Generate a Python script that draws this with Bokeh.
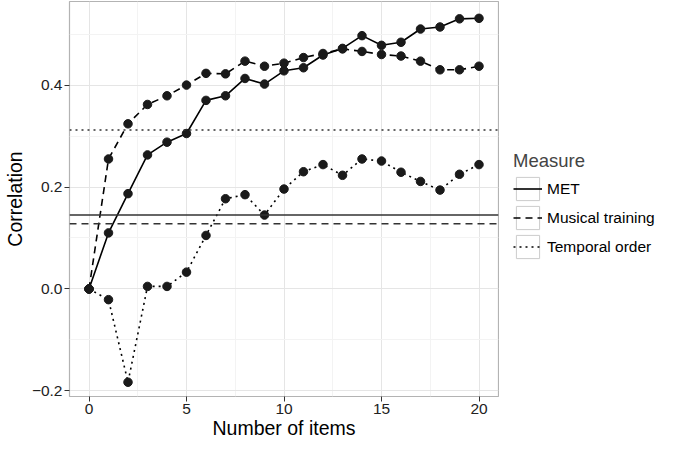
from bokeh.plotting import figure
from bokeh.layouts import row
from bokeh.models import Legend, LegendItem, FixedTicker, Span, Range1d
from bokeh.embed import file_html
from bokeh.resources import INLINE

items = list(range(21))
met = [0.0, 0.110, 0.187, 0.263, 0.288, 0.305, 0.370, 0.379, 0.413, 0.402, 0.428,
       0.434, 0.459, 0.472, 0.497, 0.478, 0.484, 0.510, 0.514, 0.530, 0.531]
musical = [0.0, 0.255, 0.324, 0.362, 0.379, 0.400, 0.423, 0.422, 0.447, 0.437, 0.443,
           0.454, 0.462, 0.471, 0.466, 0.460, 0.457, 0.447, 0.430, 0.430, 0.437]
temporal = [0.0, -0.021, -0.183, 0.005, 0.005, 0.033, 0.105, 0.177, 0.185, 0.145, 0.196,
            0.230, 0.244, 0.223, 0.255, 0.251, 0.229, 0.211, 0.194, 0.225, 0.244]
overall = {"MET": 0.145, "Musical training": 0.128, "Temporal order": 0.312}
measures = ["MET", "Musical training", "Temporal order"]
x_ticks = [0, 5, 10, 15, 20]
x_minor = [2.5, 7.5, 12.5, 17.5]
y_ticks = [-0.2, 0.0, 0.2, 0.4]
y_minor = [-0.1, 0.1, 0.3, 0.5]
y_tick_labels = ["\u22120.2", "0.0", "0.2", "0.4"]

FONT = "Liberation Sans"
dashes = {"MET": "solid", "Musical training": "7 5", "Temporal order": "2 4"}
series = {"MET": met, "Musical training": musical, "Temporal order": temporal}

p = figure(width=499, height=441, output_backend="svg", toolbar_location=None,
           x_range=Range1d(-1, 21), y_range=Range1d(-0.211, 0.564),
           min_border_left=0, min_border_top=1, min_border_bottom=0, min_border_right=1)

p.background_fill_color = "white"
p.outline_line_color = "#b3b3b3"
p.outline_line_width = 1.2

p.xaxis.ticker = FixedTicker(ticks=x_ticks, minor_ticks=x_minor)
p.yaxis.ticker = FixedTicker(ticks=y_ticks, minor_ticks=y_minor)
p.yaxis.major_label_overrides = {t: l for t, l in zip(y_ticks, y_tick_labels)}

for ax in (p.xaxis, p.yaxis):
    ax.axis_line_color = None
    ax.major_tick_in = 0
    ax.major_tick_out = 5
    ax.major_tick_line_color = "#333333"
    ax.major_tick_line_width = 1
    ax.minor_tick_line_color = None
    ax.major_label_text_font = FONT
    ax.major_label_text_font_size = "15.5px"
    ax.major_label_text_color = "#222222"
    ax.axis_label_text_font = FONT
    ax.axis_label_text_font_size = "19.5px"
    ax.axis_label_text_font_style = "normal"
    ax.axis_label_text_color = "black"
    ax.major_label_standoff = 2

p.xaxis.axis_label = "Number of items"
p.yaxis.axis_label = "Correlation"
p.xaxis.axis_label_standoff = 0
p.yaxis.axis_label_standoff = 3

for g in (p.xgrid, p.ygrid):
    g.grid_line_color = "#e5e5e5"
    g.grid_line_width = 1
    g.minor_grid_line_color = "#f3f3f3"
    g.minor_grid_line_width = 1

for m in measures:
    span = Span(location=overall[m], dimension="width", line_color="#333333",
                line_width=1.6, line_dash=dashes[m])
    p.add_layout(span)
    p.line(items, series[m], line_color="black", line_width=1.6, line_dash=dashes[m])
    p.scatter(items, series[m], size=8.5, fill_color="#1a1a1a", line_color="#1a1a1a")

# legend panel: a second figure holding only the legend
lg = figure(width=160, height=441, output_backend="svg", toolbar_location=None,
            x_range=Range1d(0, 1), y_range=Range1d(0, 1),
            x_axis_type=None, y_axis_type=None,
            min_border_left=0, min_border_top=0, min_border_bottom=0, min_border_right=0)
lg.outline_line_color = None
lg.background_fill_color = "white"

legend_items = []
for m in measures:
    box = lg.rect(x=[-10], y=[-10], width=1, height=1, fill_color="white",
                  line_color="#cccccc", line_width=1)
    ln = lg.line(x=[-10, -9], y=[-10, -10], line_color="black", line_width=1.6,
                 line_dash=dashes[m])
    legend_items.append(LegendItem(label=m, renderers=[box, ln]))

legend = Legend(items=legend_items, title="Measure", location=(14, 135),
                orientation="vertical",
                glyph_width=29, glyph_height=29, spacing=0, label_standoff=5,
                padding=0, margin=0, border_line_color=None,
                background_fill_alpha=0,
                title_text_font=FONT, title_text_font_size="18.5px",
                title_text_font_style="normal", title_standoff=2,
                label_text_font=FONT, label_text_font_size="15.5px",
                label_text_color="black", label_height=29)
lg.add_layout(legend, "center")

layout = row(p, lg)
open("out.html", "w").write(file_html(layout, INLINE))
